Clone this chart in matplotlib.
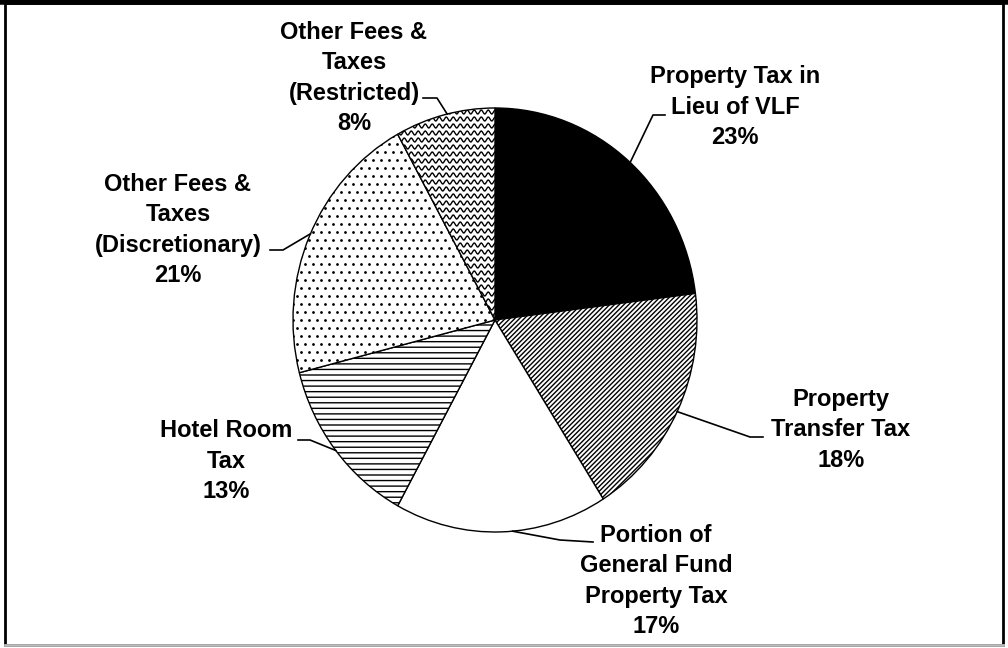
import numpy as np
import matplotlib
matplotlib.use("Agg")
import matplotlib.pyplot as plt
from matplotlib.patches import Rectangle

# data
labels = ["Property Tax in\nLieu of VLF", "Property\nTransfer Tax",
          "Portion of\nGeneral Fund\nProperty Tax", "Hotel Room\nTax",
          "Other Fees &\nTaxes\n(Discretionary)", "Other Fees &\nTaxes\n(Restricted)"]
shares = [23, 18, 17, 13, 21, 8]

# layout (pixel coords, y down)
W, H = 1008, 648
pie_cx, pie_cy, rx, ry = 495, 320, 202, 212
text_pos = [(735, 107), (841, 430), (656, 581), (226, 461), (178, 230), (354, 78)]
leader_start = [(665, 115), (763, 437), (593, 542), (298, 440), (270, 250), (423, 98)]
leader_elbow = [(653, 115), (750, 437), (560, 540), (310, 440), (283, 250), (437, 98)]
leader_angle = [48, -25.6, -85, 218, 156, 103.7]

plt.rcParams['font.family'] = ['Liberation Sans', 'DejaVu Sans']
plt.rcParams['hatch.linewidth'] = 1.0

fig = plt.figure(figsize=(W / 100, H / 100), dpi=100)
fig.patch.set_facecolor('white')

pax = fig.add_axes([(pie_cx - rx) / W, (H - pie_cy - ry) / H, 2 * rx / W, 2 * ry / H])
wedges, _ = pax.pie(shares, startangle=90, counterclock=False, radius=1,
                    wedgeprops=dict(edgecolor='black', linewidth=1.0))
pax.set_aspect('auto')
pax.set_xlim(-1, 1)
pax.set_ylim(-1, 1)
pax.axis('off')

fills = ['black', 'white', 'white', 'white', 'white', 'white']
hatches = [None, '///////', None, '---', None, None]
for w, fc, h in zip(wedges, fills, hatches):
    w.set_facecolor(fc)
    if h:
        w.set_hatch(h)

ax = fig.add_axes([0, 0, 1, 1])
ax.set_xlim(0, W)
ax.set_ylim(H, 0)
ax.axis('off')

# wavy fill for the restricted slice
xs = np.arange(pie_cx - 120, pie_cx + 5, 0.5)
for y0 in np.arange(pie_cy - ry - 10, pie_cy + 10, 7):
    ln, = ax.plot(xs, y0 + 2.0 * np.sin(2 * np.pi * xs / 7.0), color='black', lw=1.0)
    ln.set_clip_path(wedges[5])

# dotted fill for the discretionary slice
gx, gy = np.meshgrid(np.arange(pie_cx - rx - 4, pie_cx + 8, 8.0),
                     np.arange(pie_cy - ry - 4, pie_cy + ry, 8.0))
gx = gx + 4 * (np.arange(gx.shape[0]) % 2)[:, None]
dots = ax.scatter(gx.ravel(), gy.ravel(), s=4, color='black', linewidths=0)
dots.set_clip_path(wedges[4])

to_ax = ax.transData.inverted()
for lab, sh, (tx, ty), s, e, ang in zip(labels, shares, text_pos, leader_start,
                                        leader_elbow, leader_angle):
    ax.text(tx, ty, f"{lab}\n{sh}%", ha='center', va='center', multialignment='center',
            fontsize=17, fontweight='bold', linespacing=1.42, color='black')
    a = np.deg2rad(ang)
    px, py = to_ax.transform(pax.transData.transform((np.cos(a), np.sin(a))))
    ax.plot([s[0], e[0], px], [s[1], e[1], py], color='black', lw=1.2)

# scanned page frame
ax.add_patch(Rectangle((5, 3), W - 10, H - 6, fill=False, edgecolor='black', lw=2))
ax.plot([0, W], [2, 2], color='black', lw=4)
ax.plot([5, W - 5], [H - 3, H - 3], color='#bbbbbb', lw=2)

fig.savefig('out.png', dpi=100)
